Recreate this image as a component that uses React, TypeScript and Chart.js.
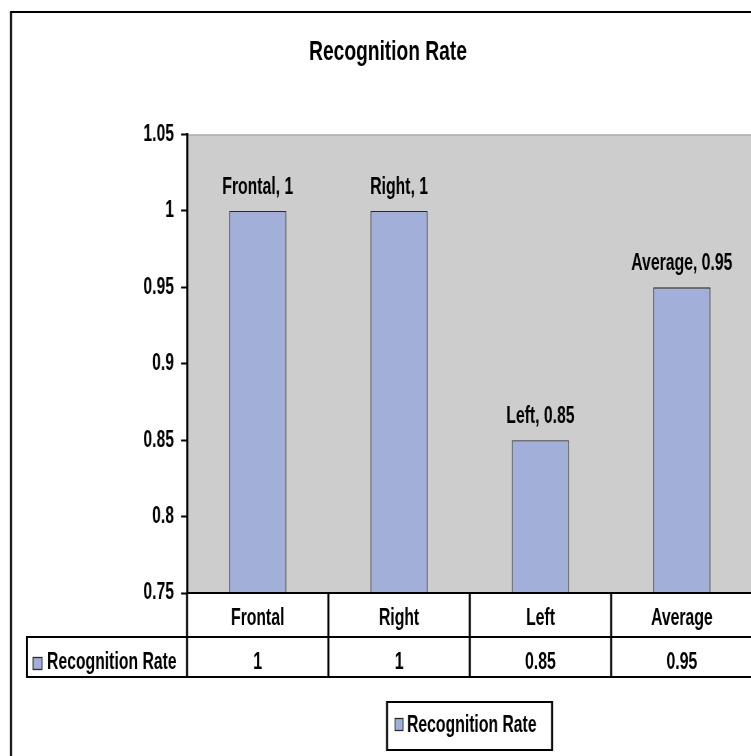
import React, { useEffect, useRef } from "react";
import { Chart, registerables } from "chart.js";

Chart.register(...registerables);

// ---- data ----
const chartTitle = "Recognition Rate";
const seriesName = "Recognition Rate";
const categories = ["Frontal", "Right", "Left", "Average"];
const values = [1, 1, 0.85, 0.95];
const tableValues = ["1", "1", "0.85", "0.95"];
const yMin = 0.75;
const yMax = 1.05;
const yStep = 0.05;

// ---- style ----
const FONT = '"Liberation Sans", Arial, sans-serif';
const BAR = "#a2afd8";
const BAR_BORDER = "#2b2b2b";
const PLOT_BG = "#cdcdcd";
const K = 0.685; // horizontal squeeze applied to the whole canvas
const CW = 1133; // internal canvas width (shown at CW*K)
const CH = 760;
const sx = (x: number) => x / K;
const VLW = 2 / K; // vertical line width that shows as 2px
const PAD_R = CW - sx(752.5);
const PAD_L = 2 * sx(388) - sx(752.5);
const TXT = `bold 23px ${FONT}`;

const excelPlugin = {
  id: "excelLook",
  beforeDraw(chart: any) {
    const { ctx, chartArea: a } = chart;
    ctx.save();
    ctx.fillStyle = "#ffffff";
    ctx.fillRect(0, 0, chart.width, chart.height);
    ctx.fillStyle = PLOT_BG;
    ctx.fillRect(a.left, a.top, a.right - a.left, a.bottom - a.top);
    ctx.strokeStyle = "#9a9a9a";
    ctx.lineWidth = 1;
    ctx.beginPath();
    ctx.moveTo(a.left, a.top + 0.5);
    ctx.lineTo(a.right, a.top + 0.5);
    ctx.stroke();
    ctx.restore();
  },
  afterDraw(chart: any) {
    const { ctx, chartArea: a, scales } = chart;
    const xs = scales.x;
    const meta = chart.getDatasetMeta(0);
    ctx.save();

    // outer frame
    ctx.strokeStyle = "#000";
    ctx.lineWidth = VLW;
    ctx.beginPath();
    ctx.moveTo(sx(11), CH + 5);
    ctx.lineTo(sx(11), 12);
    ctx.stroke();
    ctx.lineWidth = 2;
    ctx.beginPath();
    ctx.moveTo(sx(11) - VLW / 2, 12);
    ctx.lineTo(CW + 5, 12);
    ctx.stroke();

    // data labels
    ctx.fillStyle = "#000";
    ctx.font = TXT;
    ctx.textAlign = "center";
    ctx.textBaseline = "alphabetic";
    meta.data.forEach((el: any, i: number) => {
      ctx.fillText(`${categories[i]}, ${values[i]}`, el.x, el.y - 17);
    });

    // data table
    const r1Top = a.bottom;
    const r1Bot = a.bottom + 44;
    const r2Bot = a.bottom + 84;
    const labelLeft = sx(27);
    const half = (xs.getPixelForValue(1) - xs.getPixelForValue(0)) / 2;
    ctx.strokeStyle = "#000";
    ctx.lineWidth = 2;
    ctx.beginPath();
    ctx.moveTo(a.left, r1Top);
    ctx.lineTo(CW, r1Top);
    ctx.moveTo(labelLeft, r1Bot);
    ctx.lineTo(CW, r1Bot);
    ctx.moveTo(labelLeft, r2Bot);
    ctx.lineTo(CW, r2Bot);
    ctx.stroke();
    ctx.lineWidth = VLW;
    ctx.beginPath();
    ctx.moveTo(labelLeft, r1Bot - 1);
    ctx.lineTo(labelLeft, r2Bot + 1);
    ctx.moveTo(a.left, r1Top);
    ctx.lineTo(a.left, r2Bot + 1);
    categories.forEach((_, i) => {
      const px = xs.getPixelForValue(i) + half;
      ctx.moveTo(px, r1Top);
      ctx.lineTo(px, r2Bot + 1);
    });
    ctx.stroke();

    ctx.fillStyle = "#000";
    ctx.font = TXT;
    ctx.textAlign = "center";
    categories.forEach((c, i) => {
      const px = xs.getPixelForValue(i);
      ctx.fillText(c, px, r1Top + 32);
      ctx.fillText(tableValues[i], px, r1Bot + 32);
    });

    // row label with key
    ctx.fillStyle = BAR;
    ctx.fillRect(sx(33), r1Bot + 20, sx(9), 13);
    ctx.strokeStyle = BAR_BORDER;
    ctx.lineWidth = 1.3;
    ctx.strokeRect(sx(33), r1Bot + 20.5, sx(9), 12);
    ctx.fillStyle = "#000";
    ctx.textAlign = "left";
    ctx.fillText(seriesName, sx(47), r1Bot + 32);

    // legend box
    const lx = sx(387), ly = 702, lw = sx(165), lh = 48;
    ctx.strokeStyle = "#000";
    ctx.lineWidth = 2;
    ctx.beginPath();
    ctx.moveTo(lx, ly);
    ctx.lineTo(lx + lw, ly);
    ctx.moveTo(lx, ly + lh);
    ctx.lineTo(lx + lw, ly + lh);
    ctx.stroke();
    ctx.lineWidth = VLW;
    ctx.beginPath();
    ctx.moveTo(lx, ly - 1);
    ctx.lineTo(lx, ly + lh + 1);
    ctx.moveTo(lx + lw, ly - 1);
    ctx.lineTo(lx + lw, ly + lh + 1);
    ctx.stroke();
    ctx.fillStyle = BAR;
    ctx.fillRect(sx(395), 718, sx(8), 13);
    ctx.strokeStyle = BAR_BORDER;
    ctx.lineWidth = 1.3;
    ctx.strokeRect(sx(395), 718.5, sx(8), 12);
    ctx.fillStyle = "#000";
    ctx.fillText(seriesName, sx(407), 731.5);

    ctx.restore();
  },
};

export default function App() {
  const ref = useRef<HTMLCanvasElement | null>(null);
  useEffect(() => {
    if (!ref.current) return;
    const chart = new Chart(ref.current, {
      type: "bar",
      data: {
        labels: categories,
        datasets: [
          {
            label: seriesName,
            data: values,
            backgroundColor: BAR,
            borderColor: BAR_BORDER,
            borderWidth: 1.4,
            categoryPercentage: 1,
            barPercentage: 0.404,
          },
        ],
      },
      options: {
        responsive: false,
        devicePixelRatio: 1,
        animation: false,
        layout: { padding: { left: PAD_L, right: PAD_R, top: 0, bottom: CH - 593 } },
        plugins: {
          legend: { display: false },
          tooltip: { enabled: false },
          title: {
            display: true,
            text: chartTitle,
            color: "#000",
            font: { family: FONT, size: 28, weight: "bold" },
            padding: { top: 35.2, bottom: 65.7 },
          },
        },
        scales: {
          x: { display: false },
          y: {
            min: yMin,
            max: yMax,
            ticks: {
              stepSize: yStep,
              color: "#000",
              padding: sx(7),
              font: { family: FONT, size: 23, weight: "bold" },
              callback: (v: any) => String(parseFloat(Number(v).toFixed(2))),
            },
            grid: {
              drawOnChartArea: false,
              drawTicks: true,
              tickLength: sx(6),
              tickWidth: 2,
              tickColor: "#000",
            },
            border: { display: true, color: "#000", width: VLW },
            afterFit: (s: any) => {
              s.width = sx(187) - PAD_L;
            },
          },
        },
      },
      plugins: [excelPlugin],
    });
    return () => chart.destroy();
  }, []);
  return (
    <div
      style={{
        position: "fixed",
        left: 0,
        top: 0,
        width: 751,
        height: 756,
        overflow: "hidden",
        background: "#fff",
      }}
    >
      <canvas
        ref={ref}
        width={CW}
        height={CH}
        style={{
          display: "block",
          width: CW,
          height: CH,
          transform: `scaleX(${K})`,
          transformOrigin: "0 0",
        }}
      />
    </div>
  );
}
